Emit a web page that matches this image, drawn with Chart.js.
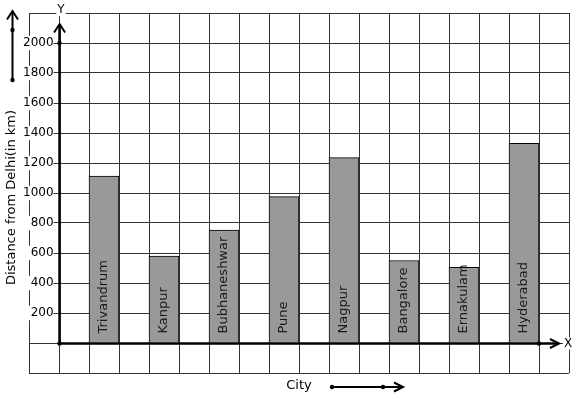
<!DOCTYPE html>
<html><head><meta charset="utf-8">
<script src="https://cdn.jsdelivr.net/npm/chart.js@4/dist/chart.umd.min.js"></script>
<style>html,body{margin:0;padding:0;background:#fff}#wrap{width:577px;height:399px}</style>
</head><body><div id="wrap"><canvas id="c" width="577" height="399"></canvas></div>
<script>
const cities = ['Trivandrum', 'Kanpur', 'Bubhaneshwar', 'Pune', 'Nagpur', 'Bangalore', 'Ernakulam', 'Hyderabad'];
const distances = [1113, 580, 752, 976, 1236, 550, 505, 1331];
const yTickLabels = [200, 400, 600, 800, 1000, 1200, 1400, 1600, 1800, 2000];
const yMin = -200, yMax = 2200, yStep = 200;
const xTitle = 'City';
const yTitle = 'Distance from Delhi(in km)';

// grid columns: one blank column left of the Y axis, one blank after it, then city / blank pairs
const slots = ['', ''];
const values = [null, null];
cities.forEach((c, i) => { slots.push(c); values.push(distances[i]); slots.push(''); values.push(null); });

const FONT = '"DejaVu Sans", sans-serif';

const barLabels = {
  id: 'barLabels',
  afterDatasetsDraw(chart) {
    const ctx = chart.ctx, meta = chart.getDatasetMeta(0);
    const y0 = chart.scales.y.getPixelForValue(0);
    ctx.save();
    ctx.font = '13px ' + FONT;
    ctx.fillStyle = '#1a1a1a';
    ctx.textAlign = 'left';
    ctx.textBaseline = 'middle';
    meta.data.forEach((bar, i) => {
      if (values[i] == null) return;
      ctx.save();
      ctx.translate(bar.x, y0 - 9.5);
      ctx.rotate(-Math.PI / 2);
      ctx.fillText(slots[i], 0, 0);
      ctx.restore();
    });
    ctx.restore();
  }
};

function dot(ctx, x, y) { ctx.beginPath(); ctx.arc(x, y, 2.2, 0, Math.PI * 2); ctx.fill(); }
function chevronUp(ctx, x, tip) { ctx.beginPath(); ctx.moveTo(x - 5.5, tip + 8.5); ctx.lineTo(x, tip); ctx.lineTo(x + 5.5, tip + 8.5); ctx.stroke(); }
function chevronRight(ctx, tip, y) { ctx.beginPath(); ctx.moveTo(tip - 9, y - 4.5); ctx.lineTo(tip, y); ctx.lineTo(tip - 9, y + 4.5); ctx.stroke(); }
function boxedText(ctx, t, x, y) {
  const w = ctx.measureText(t).width;
  ctx.fillStyle = '#fff'; ctx.fillRect(x - w / 2 - 1, y - 6, w + 2, 12);
  ctx.fillStyle = '#000'; ctx.fillText(t, x, y);
}

const decor = {
  id: 'decor',
  afterDraw(chart) {
    const { ctx, scales: { x, y } } = chart;
    const ox = (x.getPixelForValue(0) + x.getPixelForValue(1)) / 2;
    const oy = y.getPixelForValue(0);
    const yTip = y.getPixelForValue(2000) - 19;
    const xEnd = (x.getPixelForValue(16) + x.getPixelForValue(17)) / 2;
    const xTip = xEnd + 21;
    ctx.save();
    ctx.strokeStyle = '#000'; ctx.fillStyle = '#000';
    // Y axis
    ctx.lineWidth = 2.6;
    ctx.beginPath(); ctx.moveTo(ox + 0.6, oy + 1.3); ctx.lineTo(ox + 0.6, yTip + 1); ctx.stroke();
    ctx.lineWidth = 2; chevronUp(ctx, ox + 0.6, yTip);
    // X axis
    ctx.lineWidth = 2.4;
    ctx.beginPath(); ctx.moveTo(ox, oy + 0.5); ctx.lineTo(xTip - 1, oy + 0.5); ctx.stroke();
    ctx.lineWidth = 2; chevronRight(ctx, xTip - 1, oy + 0.5);
    dot(ctx, ox + 0.5, y.getPixelForValue(2000));
    dot(ctx, ox + 0.5, oy + 0.5);
    dot(ctx, xEnd, oy + 0.5);
    // axis letters
    ctx.font = '12px ' + FONT; ctx.textAlign = 'center'; ctx.textBaseline = 'middle';
    boxedText(ctx, 'Y', ox + 2, 10);
    boxedText(ctx, 'X', xTip + 8, oy + 0.5);
    // y axis title
    ctx.save();
    ctx.font = '13px ' + FONT; ctx.fillStyle = '#000';
    ctx.translate(12, (y.top + y.bottom) / 2 + 4.5);
    ctx.rotate(-Math.PI / 2);
    ctx.fillText(yTitle, 0, 0);
    ctx.restore();
    // left direction arrow
    ctx.lineWidth = 2;
    ctx.beginPath(); ctx.moveTo(12.5, 80); ctx.lineTo(12.5, 12); ctx.stroke();
    chevronUp(ctx, 12.5, 11);
    dot(ctx, 12.5, 30); dot(ctx, 12.5, 80);
    // bottom direction arrow
    ctx.beginPath(); ctx.moveTo(332, 387); ctx.lineTo(402, 387); ctx.stroke();
    chevronRight(ctx, 403, 387);
    dot(ctx, 332, 387); dot(ctx, 383, 387);
    ctx.restore();
  }
};

new Chart(document.getElementById('c'), {
  type: 'bar',
  data: {
    labels: slots,
    datasets: [{
      data: values,
      backgroundColor: '#999999',
      borderColor: '#000000',
      borderWidth: 1,
      categoryPercentage: 1,
      barPercentage: 1,
      skipNull: true
    }]
  },
  options: {
    responsive: false,
    animation: false,
    devicePixelRatio: 1,
    layout: { padding: { left: 0, right: 8, top: 13, bottom: 0 } },
    plugins: { legend: { display: false }, tooltip: { enabled: false } },
    scales: {
      x: {
        type: 'category',
        offset: true,
        grid: { offset: true, color: '#333', lineWidth: 1, drawTicks: false },
        border: { display: false },
        ticks: { display: false },
        title: { display: true, text: xTitle, color: '#000', font: { family: FONT, size: 13 }, padding: { top: 4.4, bottom: 6 } }
      },
      y: {
        min: yMin, max: yMax,
        afterFit: (s) => { s.width = 29; },
        grid: { color: '#333', lineWidth: 1, drawTicks: false },
        border: { display: false },
        ticks: {
          stepSize: yStep,
          mirror: true,
          crossAlign: 'far',
          padding: -6,
          color: '#000',
          font: { family: FONT, size: 12 },
          showLabelBackdrop: (c) => yTickLabels.includes(c.tick.value),
          backdropColor: '#ffffff',
          backdropPadding: { top: 0, bottom: 0, left: 2, right: 0 },
          callback: (v) => yTickLabels.includes(v) ? String(v) : ''
        }
      }
    }
  },
  plugins: [barLabels, decor]
});
</script></body></html>
